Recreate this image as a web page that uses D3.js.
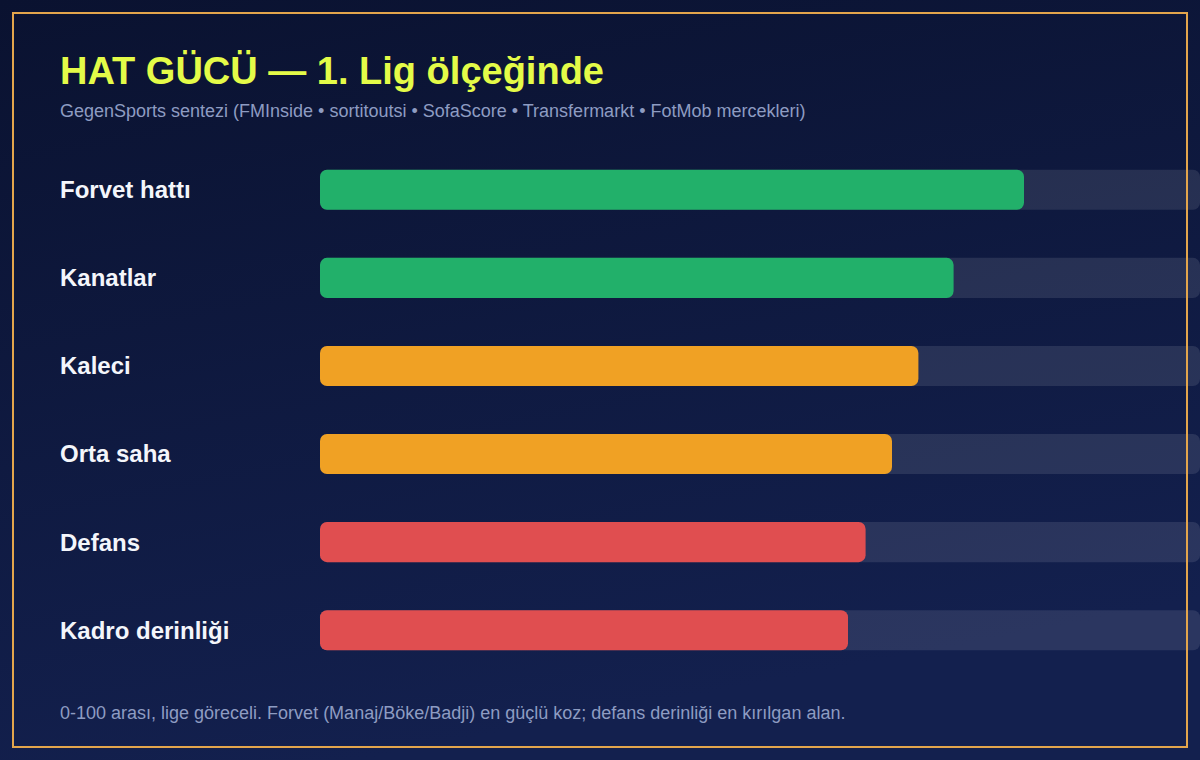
<!DOCTYPE html>
<html>
<head>
<meta charset="utf-8">
<script src="https://cdn.jsdelivr.net/npm/d3@7"></script>
<style>
  html, body { margin: 0; padding: 0; background: #0b1433; }
  svg { display: block; }
</style>
</head>
<body>
<div id="chart"></div>
<script>
const categories = ['Forvet hattı', 'Kanatlar', 'Kaleci', 'Orta saha', 'Defans', 'Kadro derinliği'];
const values = [80, 72, 68, 65, 62, 60];
const barColors = ['#22b06a', '#22b06a', '#f0a124', '#f0a124', '#e04e50', '#e04e50'];

const titleText = 'HAT GÜCÜ — 1. Lig ölçeğinde';
const subtitleText = 'GegenSports sentezi (FMInside • sortitoutsi • SofaScore • Transfermarkt • FotMob mercekleri)';
const noteText = '0-100 arası, lige göreceli. Forvet (Manaj/Böke/Badji) en güçlü koz; defans derinliği en kırılgan alan.';

const width = 1200, height = 760;

const svg = d3.select('#chart')
    .append('svg')
    .attr('width', width)
    .attr('height', height)
    .style('font-family', '"Liberation Sans", Arial, sans-serif');

const defs = svg.append('defs');
const grad = defs.append('linearGradient')
    .attr('id', 'bg')
    .attr('x1', 0).attr('y1', 0).attr('x2', 0.3).attr('y2', 1);
grad.append('stop').attr('offset', '0%').attr('stop-color', '#0a1230');
grad.append('stop').attr('offset', '100%').attr('stop-color', '#13204e');

svg.append('rect')
    .attr('width', width)
    .attr('height', height)
    .attr('fill', 'url(#bg)');

// bars
const x = d3.scaleLinear().domain([0, 100]).range([320, 1200]);
const y = d3.scaleBand()
    .domain(categories)
    .range([146, 674])
    .paddingInner(0.545)
    .paddingOuter(0.27);

const rows = svg.append('g')
    .selectAll('g.row')
    .data(categories)
    .enter()
    .append('g')
    .attr('class', 'row');

rows.append('rect')
    .attr('x', x(0))
    .attr('y', d => y(d))
    .attr('width', x(100) - x(0))
    .attr('height', y.bandwidth())
    .attr('rx', 7)
    .attr('fill', 'rgba(255,255,255,0.1)');

rows.append('rect')
    .attr('x', x(0))
    .attr('y', d => y(d))
    .attr('width', (d, i) => x(values[i]) - x(0))
    .attr('height', y.bandwidth())
    .attr('rx', 7)
    .attr('fill', (d, i) => barColors[i]);

rows.append('text')
    .attr('x', 60)
    .attr('y', d => y(d) + y.bandwidth() / 2)
    .attr('dy', '0.35em')
    .style('font-size', '24px')
    .style('font-weight', 'bold')
    .style('fill', '#f4f6fb')
    .text(d => d);

// texts
svg.append('text')
    .attr('x', 60)
    .attr('y', 84)
    .style('font-size', '38px')
    .style('font-weight', 'bold')
    .style('fill', '#e4fb48')
    .text(titleText);

svg.append('text')
    .attr('x', 60)
    .attr('y', 117)
    .style('font-size', '18px')
    .style('fill', '#8e9cc2')
    .text(subtitleText);

svg.append('text')
    .attr('x', 60)
    .attr('y', 719)
    .style('font-size', '18px')
    .style('fill', '#8e9cc2')
    .text(noteText);

// frame
svg.append('rect')
    .attr('x', 13)
    .attr('y', 13)
    .attr('width', 1174)
    .attr('height', 734)
    .attr('fill', 'none')
    .attr('stroke', '#e3a54c')
    .attr('stroke-width', 2);
</script>
</body>
</html>
